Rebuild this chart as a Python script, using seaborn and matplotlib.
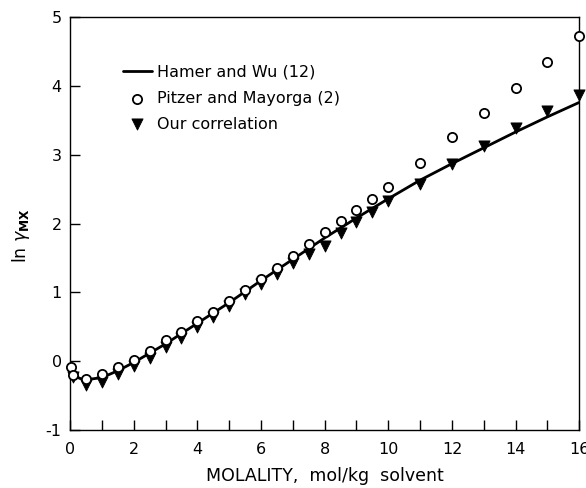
import matplotlib
matplotlib.use("Agg")
import matplotlib.pyplot as plt
import numpy as np
import pandas as pd
import seaborn as sns
from matplotlib.ticker import MultipleLocator

# Hamer and Wu (12) - smooth curve
hw_m = [0.0, 0.1, 0.3, 0.5, 1.0, 1.5, 2.0, 3.0, 4.0, 5.0, 6.0, 7.0, 8.0, 9.0,
        10.0, 11.0, 12.0, 13.0, 14.0, 15.0, 16.0]
hw_val = [-0.10, -0.19, -0.25, -0.27, -0.24, -0.14, -0.02, 0.25, 0.55, 0.85,
          1.17, 1.48, 1.79, 2.08, 2.36, 2.63, 2.87, 3.10, 3.33, 3.55, 3.76]

# Pitzer and Mayorga (2)
pm_m = [0.02, 0.1, 0.5, 1.0, 1.5, 2.0, 2.5, 3.0, 3.5, 4.0, 4.5, 5.0, 5.5, 6.0,
        6.5, 7.0, 7.5, 8.0, 8.5, 9.0, 9.5, 10.0, 11.0, 12.0, 13.0, 14.0, 15.0, 16.0]
pm_val = [-0.09, -0.20, -0.26, -0.19, -0.09, 0.02, 0.14, 0.30, 0.43, 0.58, 0.72,
          0.87, 1.03, 1.19, 1.36, 1.53, 1.70, 1.87, 2.03, 2.20, 2.36, 2.53,
          2.88, 3.25, 3.60, 3.97, 4.34, 4.72]

# Our correlation
oc_m = [0.1, 0.5, 1.0, 1.5, 2.0, 2.5, 3.0, 3.5, 4.0, 4.5, 5.0, 5.5, 6.0, 6.5,
        7.0, 7.5, 8.0, 8.5, 9.0, 9.5, 10.0, 11.0, 12.0, 13.0, 14.0, 15.0, 16.0]
oc_val = [-0.23, -0.35, -0.31, -0.19, -0.07, 0.05, 0.20, 0.34, 0.50, 0.64, 0.80,
          0.97, 1.12, 1.26, 1.42, 1.55, 1.67, 1.86, 2.02, 2.16, 2.32, 2.58,
          2.87, 3.12, 3.39, 3.63, 3.87]

sns.set_style("ticks")
plt.rcParams["font.family"] = ["DejaVu Sans"]
plt.rcParams["axes.unicode_minus"] = False
for key in ["text.color", "axes.labelcolor", "xtick.color", "ytick.color", "axes.edgecolor"]:
    plt.rcParams[key] = "black"

fig = plt.figure(figsize=(5.86, 4.88), dpi=100)
ax = fig.add_axes([0.1195, 0.119, 0.869, 0.846])

sns.lineplot(x=hw_m, y=hw_val, ax=ax, color="black", linewidth=2.0,
             label="Hamer and Wu (12)", sort=False)
sns.scatterplot(x=pm_m, y=pm_val, ax=ax, marker="o", s=44, facecolor="white",
                edgecolor="black", linewidth=1.3, label="Pitzer and Mayorga (2)",
                zorder=3, clip_on=False)
sns.scatterplot(x=oc_m, y=oc_val, ax=ax, marker="v", s=64, color="black",
                edgecolor="black", label="Our correlation", zorder=2, clip_on=False)

ax.set_xlim(0, 16)
ax.set_ylim(-1, 5)
ax.xaxis.set_major_locator(MultipleLocator(2))
ax.xaxis.set_minor_locator(MultipleLocator(1))
ax.yaxis.set_major_locator(MultipleLocator(1))
ax.tick_params(axis="both", which="both", direction="in", top=False, right=False,
               labelsize=11.5, width=1.0, length=7)
ax.tick_params(axis="x", which="major", pad=9)
ax.tick_params(axis="y", which="major", pad=6)
for s in ax.spines.values():
    s.set_linewidth(1.0)
    s.set_visible(True)

ax.set_xlabel("MOLALITY,  mol/kg  solvent", fontsize=12.5, labelpad=7)
ax.set_ylabel(r"ln $\gamma_{\mathbf{MX}}$", fontsize=12.5)
ax.yaxis.set_label_coords(-0.075, 0.47)

ax.legend(loc="upper left", bbox_to_anchor=(0.104, 0.884), frameon=False,
          fontsize=11.5, handlelength=1.8, handletextpad=0.35, borderaxespad=0,
          borderpad=0, labelspacing=0.68)

fig.savefig("out.png", dpi=100)
